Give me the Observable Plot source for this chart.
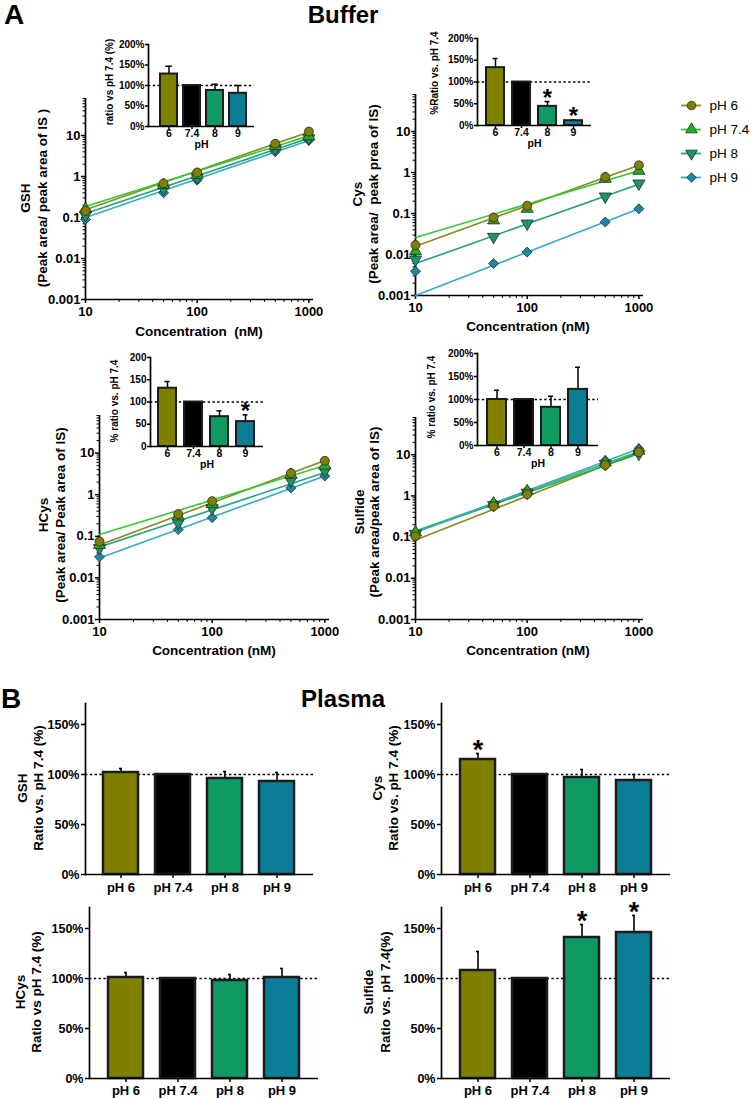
<!DOCTYPE html>
<html>
<head>
<meta charset="utf-8">
<script src="https://cdn.jsdelivr.net/npm/d3@7"></script>
<script src="https://cdn.jsdelivr.net/npm/@observablehq/plot@0.6"></script>
<style>
html,body{margin:0;padding:0;background:#fff;}
#page{position:relative;width:750px;height:1099px;overflow:hidden;background:#fff;font-family:"Liberation Sans",Arial,Helvetica,sans-serif;color:#000;}
.t{position:absolute;white-space:pre;font-weight:bold;text-align:center;}
</style>
</head>
<body>
<div id="page"></div>
<script>
// ---------------- data ----------------
const concentrations = [10, 50, 100, 500, 1000];
const fitConcentrations = [10, 1000];
const phLevels = ["pH 6", "pH 7.4", "pH 8", "pH 9"];
const insetCategories = ["6", "7.4", "8", "9"];

const logYTicks = [0.001, 0.01, 0.1, 1, 10];
const logYTickLabels = ["0.001", "0.01", "0.1", "1", "10"];
const logXTicks = [10, 100, 1000];
const logXTickLabels = ["10", "100", "1000"];
const insetTicks = [0, 50, 100, 150, 200];
const insetPctLabels = ["0%", "50%", "100%", "150%", "200%"];
const insetNumLabels = ["0", "50", "100", "150", "200"];
const plasmaTicks = [0, 50, 100, 150];
const plasmaTickLabels = ["0%", "50%", "100%", "150%"];

// Buffer calibration (peak area ratio) at 10, 50, 100, 500, 1000 nM
const gshBuf6  = [0.145, 0.68, 1.25, 6.3, 12.5];
const gshBuf74 = [0.16, 0.62, 1.1, 5.5, 9.6];
const gshBuf8  = [0.115, 0.5, 0.95, 4.8, 8.6];
const gshBuf9  = [0.09, 0.4, 0.82, 4.0, 7.6];
const gshFit6  = [0.155, 12.2];
const gshFit74 = [0.185, 9.8];
const gshFit8  = [0.125, 8.6];
const gshFit9  = [0.1, 7.6];

const cysBuf6  = [0.017, 0.08, 0.155, 0.78, 1.5];
const cysBuf74 = [0.012, 0.068, 0.13, 0.7, 1.1];
const cysBuf8  = [0.0075, 0.027, 0.057, 0.26, 0.54];
const cysBuf9  = [0.0039, 0.006, 0.0115, 0.062, 0.13];
const cysFit6  = [0.016, 1.5];
const cysFit74 = [0.026, 1.1];
const cysFit8  = [0.006, 0.52];
const cysFit9  = [0.001, 0.13];

const hcysBuf6  = [0.075, 0.34, 0.7, 3.3, 6.5];
const hcysBuf74 = [0.062, 0.3, 0.6, 3.0, 5.0];
const hcysBuf8  = [0.052, 0.21, 0.47, 2.2, 3.7];
const hcysBuf9  = [0.032, 0.145, 0.28, 1.45, 2.8];
const hcysFit6  = [0.062, 6.6];
const hcysFit74 = [0.11, 5.0];
const hcysFit8  = [0.055, 3.4];
const hcysFit9  = [0.03, 2.8];

const sulfBuf6  = [0.105, 0.56, 1.1, 5.6, 11.5];
const sulfBuf74 = [0.13, 0.65, 1.3, 6.5, 12.5];
const sulfBuf8  = [0.12, 0.6, 1.2, 6.0, 10.5];
const sulfBuf9  = [0.13, 0.68, 1.35, 7.2, 14];
const sulfFit6  = [0.085, 11.5];
const sulfFit74 = [0.14, 12];
const sulfFit8  = [0.135, 10.5];
const sulfFit9  = [0.13, 14];

// Buffer ratio vs pH 7.4 (%) – insets
const gshBufRatio = [128, 100, 88, 81];
const gshBufErr   = [147, 100, 103, 100];
const gshBufSig   = ["", "", "", ""];
const cysBufRatio = [133, 100, 44, 11];
const cysBufErr   = [154, 100, 55, 13];
const cysBufSig   = ["", "", "*", "*"];
const hcysBufRatio = [131, 100, 67, 56];
const hcysBufErr   = [146, 100, 80, 71];
const hcysBufSig   = ["", "", "", "*"];
const sulfBufRatio = [100, 100, 83, 122];
const sulfBufErr   = [120, 100, 107, 170];
const sulfBufSig   = ["", "", "", ""];

// Plasma ratio vs pH 7.4 (%)
const gshPlasma = [102, 100, 96, 93];
const gshPlasmaErr = [106, 100, 103, 102];
const gshPlasmaSig = ["", "", "", ""];
const cysPlasma = [115, 100, 97, 94];
const cysPlasmaErr = [121, 100, 105, 100];
const cysPlasmaSig = ["*", "", "", ""];
const hcysPlasma = [101, 100, 98, 101];
const hcysPlasmaErr = [106, 100, 104, 110];
const hcysPlasmaSig = ["", "", "", ""];
const sulfPlasma = [108, 100, 141, 146];
const sulfPlasmaErr = [127, 100, 154, 163];
const sulfPlasmaSig = ["", "", "*", "*"];

// ---------------- styles ----------------
const W = 750, H = 1099;
const page = document.getElementById("page");
const triangleDown = {
  draw(context, size) {
    const y = -Math.sqrt(size / (Math.sqrt(3) * 3));
    context.moveTo(0, -y * 2);
    context.lineTo(-Math.sqrt(3) * y, y);
    context.lineTo(Math.sqrt(3) * y, y);
    context.closePath();
  }
};
const palette = [
  {line: "#8a8a1c", fill: "#808000", symbol: "circle", r: 4.5},
  {line: "#35c835", fill: "#1faf1f", symbol: "triangle", r: 4.5},
  {line: "#22a07c", fill: "#16966a", symbol: triangleDown, r: 4.5},
  {line: "#36a9d0", fill: "#178aa6", symbol: d3.symbolDiamond2 || "diamond", r: 4.5}
];
const barColors = ["#808000", "#000000", "#0d9b63", "#0a7e97"];

function svgStyle(fontSize) {
  return {position: "absolute", left: "0px", top: "0px", background: "transparent", overflow: "visible",
    fontFamily: "'Liberation Sans', Arial, sans-serif", fontWeight: "bold", fontSize: fontSize + "px",
    color: "#000", maxWidth: "none", pointerEvents: "none"};
}
function frameDims([l, t, r, b]) {
  return {width: W, height: H, marginLeft: l, marginTop: t, marginRight: W - r, marginBottom: H - b};
}
function label(text, cx, cy, o = {}) {
  const d = document.createElement("div");
  d.className = "t";
  d.textContent = text;
  d.style.left = cx + "px";
  d.style.top = cy + "px";
  d.style.fontSize = (o.size || 13) + "px";
  d.style.lineHeight = (o.lh || 16) + "px";
  if (o.weight) d.style.fontWeight = o.weight;
  d.style.transform = "translate(-50%,-50%)" + (o.rotate ? " rotate(-90deg)" : "");
  page.appendChild(d);
}

const logMinorY = logYTicks.flatMap(p => [2, 3, 4, 5, 6, 7, 8, 9].map(m => +(m * p).toPrecision(3))).filter(v => v <= 80);
const logMinorX = [10, 100].flatMap(p => [2, 3, 4, 5, 6, 7, 8, 9].map(m => m * p));

function tidy(series, xs) {
  return series.flatMap((vals, k) => vals.map((v, i) => ({ph: phLevels[k], conc: xs[i], value: v})));
}

function logPanel(frame, pointSeries, fitSeries) {
  const pts = tidy(pointSeries, concentrations);
  const fit = tidy(fitSeries, fitConcentrations);
  const marks = [
    Plot.axisY({ticks: logMinorY, tickFormat: () => "", tickSize: 2.5, strokeWidth: 1, label: null}),
    Plot.axisY({ticks: logYTicks, tickFormat: d => logYTickLabels[logYTicks.indexOf(d)], tickSize: 4, tickPadding: 1, strokeWidth: 1.5, label: null}),
    Plot.axisX({ticks: logMinorX, tickFormat: () => "", tickSize: 3, strokeWidth: 1, label: null}),
    Plot.axisX({ticks: logXTicks, tickFormat: d => logXTickLabels[logXTicks.indexOf(d)], tickSize: 4, tickPadding: 3, strokeWidth: 1.5, label: null}),
    Plot.ruleX([10], {strokeWidth: 1.7}),
    Plot.ruleY([0.001], {strokeWidth: 1.7})
  ];
  phLevels.forEach((ph, k) => {
    marks.push(Plot.line(fit.filter(d => d.ph === ph), {x: "conc", y: "value", stroke: palette[k].line, strokeWidth: 1.6}));
  });
  [3, 2, 1, 0].forEach(k => {
    const ph = phLevels[k];
    marks.push(Plot.dot(pts.filter(d => d.ph === ph), {x: "conc", y: "value", fill: palette[k].fill, stroke: "#2a2a2a",
      strokeWidth: 0.8, symbol: palette[k].symbol, r: palette[k].r}));
  });
  page.appendChild(Plot.plot({
    ...frameDims(frame),
    x: {type: "log", domain: [10, 1100]},
    y: {type: "log", domain: [0.001, 80]},
    style: svgStyle(13),
    marks
  }));
}

function barPanel(o) {
  const rows = o.cats.map((c, i) => ({cat: c, value: o.values[i], err: o.errs[i], sig: o.sig[i]}));
  const withErr = rows.filter(d => d.err > d.value);
  const marks = [
    Plot.ruleY([100], {strokeDasharray: "2.4,2.4", strokeWidth: 1.3}),
    Plot.ruleX(withErr, {x: "cat", y1: "value", y2: "err", strokeWidth: o.errWidth}),
    Plot.tickY(withErr, {x: "cat", y: "err", insetLeft: o.capInset, insetRight: o.capInset, strokeWidth: o.errWidth}),
    Plot.barY(rows, {x: "cat", y: "value", fill: "cat", stroke: "#1c1c1c", strokeWidth: o.barStroke}),
    Plot.text(rows.filter(d => d.sig), {x: "cat", y: "err", text: "sig", dy: o.starDy, fontSize: o.starSize, fontWeight: "bold"}),
    Plot.ruleY([0], {strokeWidth: 1.7}),
    Plot.frame({anchor: "left", strokeWidth: 1.7}),
    Plot.axisY({ticks: o.yTicks, tickFormat: d => o.yLabels[o.yTicks.indexOf(d)], tickSize: o.tickSize, tickPadding: o.yPad, strokeWidth: 1.5, label: null, fontSize: o.yFont}),
    Plot.axisX({tickSize: o.tickSize, tickPadding: o.xPad, strokeWidth: 1.5, label: null, fontSize: o.xFont})
  ];
  if (o.phDy) marks.push(Plot.text(["pH"], {frameAnchor: "bottom", text: d => d, dy: o.phDy, fontSize: o.xFont}));
  page.appendChild(Plot.plot({
    ...frameDims(o.frame),
    x: {domain: o.cats, paddingInner: o.padding, paddingOuter: o.padding / 2, insetLeft: o.inset[0], insetRight: o.inset[1]},
    y: {domain: [0, o.yMax]},
    color: {domain: o.cats, range: barColors},
    style: svgStyle(o.yFont),
    marks
  }));
}

// ---------------- titles ----------------
label("A", 14, 15, {size: 28, lh: 30});
label("Buffer", 343, 15, {size: 24, lh: 28});
label("B", 11, 699, {size: 28, lh: 30});
label("Plasma", 343, 699, {size: 24, lh: 28});

// ---------------- buffer log panels ----------------
logPanel([85, 98, 313, 299], [gshBuf6, gshBuf74, gshBuf8, gshBuf9], [gshFit6, gshFit74, gshFit8, gshFit9]);
logPanel([415, 94, 643, 295], [cysBuf6, cysBuf74, cysBuf8, cysBuf9], [cysFit6, cysFit74, cysFit8, cysFit9]);
logPanel([99, 415, 329, 619], [hcysBuf6, hcysBuf74, hcysBuf8, hcysBuf9], [hcysFit6, hcysFit74, hcysFit8, hcysFit9]);
logPanel([415, 417, 643, 619], [sulfBuf6, sulfBuf74, sulfBuf8, sulfBuf9], [sulfFit6, sulfFit74, sulfFit8, sulfFit9]);

label("GSH\n(Peak area/ peak area of IS )", 33.5, 198, {size: 13.5, lh: 17, rotate: true});
label("Cys\n(Peak area/  peak prea of IS)", 366, 194, {size: 13.5, lh: 16, rotate: true});
label("HCys\n(Peak area/ Peak area of IS)", 51.5, 515, {size: 13.5, lh: 17, rotate: true});
label("Sulfide\n(Peak area/peak area of IS)", 366.5, 512, {size: 13.5, lh: 15, rotate: true});
label("Concentration  (nM)", 199, 332, {size: 13.5});
label("Concentration (nM)", 528, 327, {size: 13.5});
label("Concentration (nM)", 214, 651, {size: 13.5});
label("Concentration (nM)", 528, 651, {size: 13.5});

// ---------------- insets ----------------
const insetBase = {cats: insetCategories, yMax: 200, yTicks: insetTicks, yLabels: insetPctLabels, tickSize: 3, yPad: 1,
  xPad: 0.5, yFont: 10, xFont: 10.5, barStroke: 2, errWidth: 1.5, starDy: -3.5, starSize: 24, phDy: 21, padding: 0.3};
barPanel({...insetBase, frame: [148, 44, 254, 126], values: gshBufRatio, errs: gshBufErr, sig: gshBufSig, inset: [8, 4], padding: 0.25, capInset: 5.25});
barPanel({...insetBase, frame: [477, 38, 591, 125], values: cysBufRatio, errs: cysBufErr, sig: cysBufSig, inset: [5, 5], capInset: 6.5});
barPanel({...insetBase, frame: [150, 357, 263, 446], values: hcysBufRatio, errs: hcysBufErr, sig: hcysBufSig, yLabels: insetNumLabels, inset: [4, 5], capInset: 6.5});
barPanel({...insetBase, frame: [477, 353, 598, 445], values: sulfBufRatio, errs: sulfBufErr, sig: sulfBufSig, inset: [5, 6], capInset: 7});

label("ratio vs pH 7.4 (%)", 110, 82, {size: 10, rotate: true});
label("%Ratio vs. pH 7.4", 435, 73, {size: 10, rotate: true});
label("% ratio vs. pH 7.4", 115, 401, {size: 10, rotate: true});
label("% ratio vs. pH 7.4", 432, 397, {size: 10, rotate: true});

// ---------------- legend ----------------
{
  const marks = [];
  phLevels.forEach((ph, k) => {
    marks.push(Plot.ruleY([ph], {y: d => d, stroke: palette[k].line, strokeWidth: 1.8}));
    marks.push(Plot.dot([ph], {y: d => d, fill: palette[k].fill, stroke: "#2a2a2a", strokeWidth: 0.8, symbol: palette[k].symbol, r: 4.3}));
    marks.push(Plot.text([ph], {y: d => d, text: d => d, frameAnchor: "right", dx: 8, textAnchor: "start", fontSize: 13.5, fontWeight: "normal"}));
  });
  page.appendChild(Plot.plot({
    width: W, height: H, marginLeft: 681, marginRight: W - 701, marginTop: 105, marginBottom: H - 177,
    y: {type: "point", domain: phLevels, padding: 0, axis: null},
    style: svgStyle(13.5),
    marks
  }));
}

// ---------------- plasma ----------------
const plasmaBase = {cats: phLevels, yMax: 171, yTicks: plasmaTicks, yLabels: plasmaTickLabels, tickSize: 4, yPad: 2,
  xPad: 4, yFont: 12.5, xFont: 13, barStroke: 2.5, errWidth: 1.6, starDy: -3, starSize: 27, padding: 0.32, capInset: 16};
barPanel({...plasmaBase, frame: [85, 703, 313, 874], values: gshPlasma, errs: gshPlasmaErr, sig: gshPlasmaSig, inset: [8.6, 8.6]});
barPanel({...plasmaBase, frame: [441, 703, 670, 874], values: cysPlasma, errs: cysPlasmaErr, sig: cysPlasmaSig, inset: [9.6, 8.6]});
barPanel({...plasmaBase, frame: [89, 907, 318, 1078], values: hcysPlasma, errs: hcysPlasmaErr, sig: hcysPlasmaSig, inset: [9.6, 8.6], xPad: 3});
barPanel({...plasmaBase, frame: [441, 907, 670, 1078], values: sulfPlasma, errs: sulfPlasmaErr, sig: sulfPlasmaSig, inset: [9.6, 8.6], xPad: 3});

label("GSH\nRatio vs. pH 7.4 (%)", 29.5, 788, {size: 13.5, lh: 15.5, rotate: true});
label("Cys\nRatio vs. pH 7.4 (%)", 384.5, 788, {size: 13.5, lh: 15.5, rotate: true});
label("HCys\nRatio vs pH 7.4 (%)", 29, 992, {size: 13.5, lh: 16, rotate: true});
label("Sulfide\nRatio vs. pH 7.4(%)", 377, 992, {size: 13.5, lh: 16.5, rotate: true});
</script>
</body>
</html>
